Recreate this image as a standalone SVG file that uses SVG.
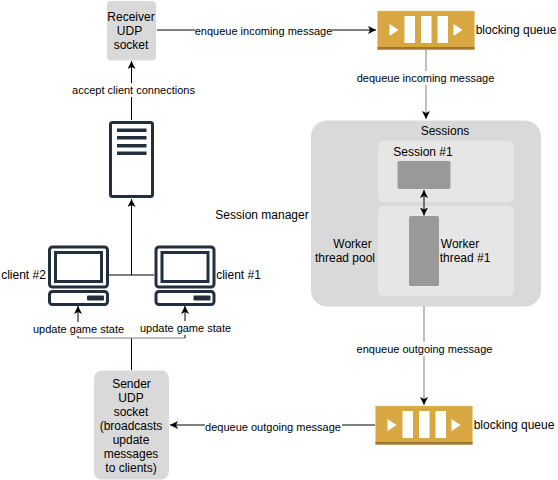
<svg xmlns="http://www.w3.org/2000/svg" width="558" height="480" viewBox="0 0 558 480">
<style>
text{font-family:"Liberation Sans",Arial,sans-serif;font-size:12px;fill:#000;text-anchor:middle}
.sm{font-size:11px}
.lb{fill:#fff}
.c{fill:none;stroke:#000;stroke-width:1}
.g{stroke:#808080}
.ic{fill:#fff;stroke:#232f3e;stroke-width:3}
.d{fill:#232f3e}
.w{fill:#fff}
.q{fill:#d9a741}
.qb{fill:#9c7433}
</style>
<defs>
<marker id="a" markerWidth="9" markerHeight="9" refX="8" refY="4" orient="auto-start-reverse" markerUnits="userSpaceOnUse"><path d="M0 0L8 4L0 8L2 4Z" fill="#000"/></marker>
<g id="pc">
<rect class="ic" x="1.500" y="1.500" width="58" height="40" rx="3"/>
<rect class="ic" x="7.500" y="7" width="46" height="29" fill="none"/>
<rect class="ic" x="1.500" y="46" width="58" height="13" rx="3"/>
<rect class="d" x="39" y="50" width="17" height="5" rx="1"/>
</g>
<g id="queue">
<rect x="0" y="0" width="97" height="38.500" class="q" stroke="#e6c98c" stroke-width="0.500"/>
<rect x="0" y="36" width="97" height="2.500" class="qb"/>
<path class="w" d="M12 13L21 19L12 25Z"/>
<rect class="w" x="27" y="5" width="10.500" height="27"/>
<rect class="w" x="43.500" y="5" width="10.500" height="27"/>
<rect class="w" x="60" y="5" width="10.500" height="27"/>
<path class="w" d="M76 13L85 19L76 25Z"/>
</g>
</defs>
<g id="receiver">
<rect x="107" y="1" width="49" height="59.500" rx="4" fill="#d9d9d9"/>
<text x="131" y="21">Receiver</text><text x="129.500" y="35">UDP</text><text x="131" y="49">socket</text>
</g>
<g id="server">
<rect class="ic" x="110.500" y="122.500" width="42" height="74" rx="2"/>
<rect class="d" x="117" y="128.500" width="29.500" height="3.500"/>
<rect class="d" x="117" y="136" width="29.500" height="3.500"/>
<rect class="d" x="117" y="144" width="29.500" height="3.500"/>
<rect class="d" x="117" y="151.500" width="29.500" height="3.500"/>
</g>
<g id="client2">
<use href="#pc" x="48" y="245.500"/>
<text x="23.500" y="279">client #2</text>
</g>
<g id="client1">
<use href="#pc" x="154.500" y="245.500"/>
<text x="238.500" y="279">client #1</text>
</g>
<g id="sender">
<rect x="94" y="370.500" width="75" height="109" rx="8" fill="#d9d9d9"/>
<text x="131.500" y="388">Sender</text><text x="131" y="402">UDP</text><text x="131" y="416">socket</text><text x="131" y="430">(broadcasts</text><text x="131" y="444">update</text><text x="131" y="458">messages</text><text x="131" y="472">to clients)</text>
</g>
<g id="queue-in">
<use href="#queue" x="377.500" y="11"/>
<text x="516" y="34">blocking queue</text>
</g>
<g id="queue-out">
<use href="#queue" x="375.500" y="406"/>
<text x="514" y="429">blocking queue</text>
</g>
<g id="session-manager">
<text x="262" y="219">Session manager</text>
<rect x="311" y="120.500" width="230" height="186" rx="16" fill="#d9d9d9"/>
<text x="445" y="135">Sessions</text>
</g>
<g id="session-box">
<rect x="378" y="140.500" width="136" height="62" rx="6" fill="#e6e6e6"/>
<text x="423" y="156">Session #1</text>
<rect x="397.500" y="161" width="53" height="28" rx="2" fill="#999"/>
</g>
<g id="worker-pool">
<rect x="378" y="206" width="136" height="90" rx="6" fill="#e6e6e6"/>
<rect x="409" y="216" width="30" height="70" rx="2" fill="#999"/>
<text x="352.500" y="248">Worker</text><text x="345" y="262">thread pool</text>
<text x="460" y="248">Worker</text><text x="465" y="262">thread #1</text>
</g>
<g id="connectors">
<path class="c" d="M157 30H376" marker-end="url(#a)"/>
<path class="c" d="M131.500 120V61" marker-end="url(#a)"/>
<path class="c" d="M131.500 275V199" marker-end="url(#a)"/>
<path class="c" d="M109 275H154"/>
<path class="c g" d="M426 50V119" marker-end="url(#a)"/>
<path class="c" d="M424 190V215.500" marker-start="url(#a)" marker-end="url(#a)"/>
<path class="c g" d="M424 306V405" marker-end="url(#a)"/>
<path class="c" d="M375 425H170" marker-end="url(#a)"/>
<path class="c" d="M131.500 370V338"/>
<path class="c g" d="M78 338H185"/>
<path class="c" d="M78 338V306" marker-end="url(#a)"/>
<path class="c" d="M185 338V306" marker-end="url(#a)"/>
</g>
<g id="edge-labels">
<rect class="lb" x="195" y="24" width="137" height="14"/><text class="sm" x="263.500" y="35">enqueue incoming message</text>
<rect class="lb" x="71" y="83" width="124" height="14"/><text class="sm" x="133.500" y="94">accept client connections</text>
<rect class="lb" x="356" y="71" width="140" height="14"/><text class="sm" x="425.500" y="82">dequeue incoming message</text>
<rect class="lb" x="356" y="342" width="137" height="14"/><text class="sm" x="424.500" y="353">enqueue outgoing message</text>
<rect class="lb" x="205" y="420" width="137" height="14"/><text class="sm" x="273" y="431">dequeue outgoing message</text>
<rect class="lb" x="32" y="322" width="92" height="14"/><text class="sm" x="78.500" y="333">update game state</text>
<rect class="lb" x="139" y="321" width="92" height="14"/><text class="sm" x="185.500" y="332">update game state</text>
</g>
</svg>
